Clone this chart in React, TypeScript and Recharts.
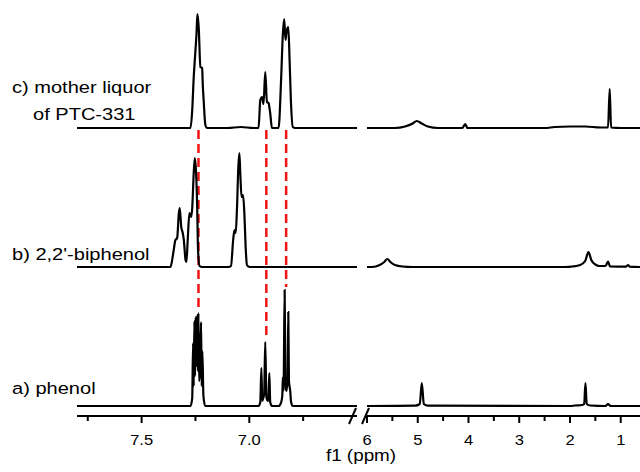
import { LineChart, Line, XAxis, YAxis, ReferenceLine } from 'recharts'

// [chemical shift (ppm), intensity], aromatic window
const MOTHER_LEFT: [number, number][] = [
  [7.8, 0], [7.273, 0], [7.265, 18], [7.258, 51], [7.253, 68], [7.245, 95], [7.241, 114],
  [7.235, 101], [7.227, 61], [7.219, 60], [7.216, 43], [7.212, 28], [7.204, 3], [7.196, 0],
  [7.1, 0], [7.04, 1], [6.98, 0],
  [6.957, 0], [6.949, 28], [6.941, 31], [6.934, 24], [6.926, 56], [6.918, 26], [6.911, 25],
  [6.903, 15], [6.895, 0],
  [6.864, 0], [6.853, 45], [6.844, 95], [6.838, 109], [6.832, 88], [6.826, 98], [6.819, 101],
  [6.813, 68], [6.807, 28], [6.798, 1], [6.787, 0], [6.5, 0],
]
const BIPHENOL_LEFT: [number, number][] = [
  [7.8, 0], [7.366, 0], [7.353, 14], [7.343, 27], [7.335, 29], [7.327, 54], [7.323, 59],
  [7.316, 40], [7.309, 34], [7.304, 27], [7.296, 7], [7.292, 5], [7.286, 27], [7.278, 54],
  [7.27, 50], [7.265, 59], [7.258, 94], [7.253, 109], [7.247, 94], [7.242, 60], [7.238, 17],
  [7.231, 1], [7.219, 0],
  [7.097, 0], [7.085, 1], [7.075, 27], [7.069, 37], [7.063, 34], [7.057, 60], [7.051, 100],
  [7.046, 114], [7.042, 94], [7.036, 70], [7.029, 72], [7.023, 54], [7.017, 20], [7.011, 2],
  [6.999, 0], [6.5, 0],
]
const PHENOL_LEFT: [number, number][] = [
  [7.8, 0], [7.273, 0], [7.265, 8], [7.261, 63], [7.258, 20], [7.255, 85], [7.252, 30],
  [7.249, 89], [7.245, 40], [7.242, 91], [7.239, 35], [7.236, 93], [7.233, 25], [7.23, 30],
  [7.227, 40], [7.224, 84], [7.221, 20], [7.218, 55], [7.213, 10], [7.205, 0],
  [6.957, 0], [6.949, 4], [6.944, 38], [6.94, 5], [6.935, 8], [6.931, 12], [6.926, 64],
  [6.921, 10], [6.917, 6], [6.912, 5], [6.907, 33], [6.903, 4], [6.895, 0],
  [6.864, 0], [6.853, 3], [6.847, 10], [6.844, 29], [6.841, 15], [6.836, 116], [6.832, 20],
  [6.827, 15], [6.822, 30], [6.819, 94], [6.816, 25], [6.81, 15], [6.806, 4], [6.798, 0],
  [6.5, 0],
]

// aliphatic window
const MOTHER_RIGHT: [number, number][] = [
  [6.0, 0], [5.45, 0], [5.25, 1.5], [5.1, 4.5], [5.02, 7], [4.92, 4.5], [4.8, 1.5], [4.6, 0],
  [4.12, 0], [4.065, 4], [4.02, 0],
  [2.5, 0], [2.3, 1], [2.0, 1.5], [1.7, 1.5], [1.4, 0.5],
  [1.25, 0.5], [1.217, 39], [1.19, 0.5], [1.0, 0], [0.62, 0],
]
const BIPHENOL_RIGHT: [number, number][] = [
  [6.0, 0], [5.9, 0], [5.75, 2], [5.66, 5], [5.6, 8], [5.54, 5], [5.45, 2], [5.3, 0.5], [5.1, 0],
  [2.1, 0], [1.95, 0.5], [1.8, 2], [1.7, 6], [1.636, 15], [1.58, 7], [1.5, 2.5], [1.42, 1],
  [1.3, 1], [1.25, 5.5], [1.21, 0.5], [0.9, 0.3], [0.856, 2], [0.82, 0.3], [0.62, 0],
]
const PHENOL_RIGHT: [number, number][] = [
  [6.0, 0], [5.05, 0.3], [4.96, 2], [4.92, 23], [4.88, 2], [4.8, 0.3],
  [2.0, 0], [1.9, 0.5], [1.76, 1], [1.72, 2], [1.695, 23], [1.67, 2], [1.6, 0.5],
  [1.3, 0], [1.25, 2], [1.2, 0], [0.62, 0],
]

// shifts marked by the dashed guides
const GUIDE_PPM = [7.236, 6.921, 6.829]

const LEFT_TICKS = [7.75, 7.5, 7.25, 7.0, 6.75]
const RIGHT_TICKS = [6, 5.5, 5, 4.5, 4, 3.5, 3, 2.5, 2, 1.5, 1]

const FONT = "'Liberation Sans', Arial, sans-serif"
const SX = 1.18

const toPts = (arr: [number, number][]) => arr.map(([ppm, h]) => ({ ppm, h }))

// vertical offsets of each stacked trace
const OFF_A = 10
const OFF_B = 149
const OFF_C = 288

const traces = [
  { key: 'c', left: MOTHER_LEFT, right: MOTHER_RIGHT, off: OFF_C },
  { key: 'b', left: BIPHENOL_LEFT, right: BIPHENOL_RIGHT, off: OFF_B },
  { key: 'a', left: PHENOL_LEFT, right: PHENOL_RIGHT, off: OFF_A },
]

function Txt({ x, y, size, anchor = 'start', children }: { x: number; y: number; size: number; anchor?: string; children: any }) {
  return (
    <text
      transform={`translate(${x},${y}) scale(${SX},1)`}
      fontFamily={FONT}
      fontSize={size}
      textAnchor={anchor as any}
      fill="#000"
    >
      {children}
    </text>
  )
}

function makeTick(step: number, digits: number) {
  return function Tick(props: any) {
    const { x, y, payload } = props
    const v = payload.value as number
    const major = Math.abs(v / step - Math.round(v / step)) < 1e-6
    return (
      <g>
        <line x1={x} x2={x} y1={y} y2={y + (major ? 7 : 5)} stroke="#000" strokeWidth={2} />
        {major && <Txt x={x} y={y + 29} size={14} anchor="middle">{v.toFixed(digits)}</Txt>}
      </g>
    )
  }
}

function guideEnd(ppm: number) {
  let best = 0
  for (const [p, h] of PHENOL_LEFT) {
    if (Math.abs(p - ppm) < 0.008 && h > best) best = h
  }
  return OFF_A + best + 3
}

const chartStyle = { position: 'absolute' as const, left: 0, top: 0 }

export default function App() {
  return (
    <div style={{ position: 'absolute', left: 0, top: 0, width: 640, height: 472, background: '#fff', overflow: 'hidden' }}>
      <LineChart width={370} height={472} margin={{ top: 6, left: 77, right: 13, bottom: 16 }} style={chartStyle}>
        <XAxis
          type="number"
          dataKey="ppm"
          domain={[6.5, 7.8]}
          reversed
          allowDataOverflow
          ticks={LEFT_TICKS}
          interval={0}
          height={40}
          tickSize={0}
          tickMargin={0}
          tickLine={false}
          axisLine={{ stroke: '#000', strokeWidth: 2 }}
          tick={makeTick(0.5, 1)}
        />
        <YAxis type="number" domain={[0, 410]} hide width={0} allowDataOverflow />
        {GUIDE_PPM.map((p) => (
          <ReferenceLine
            key={p}
            segment={[{ x: p, y: OFF_C - 2 }, { x: p, y: guideEnd(p) }]}
            stroke="#f01414"
            strokeWidth={2.5}
            strokeDasharray="9 5"
          />
        ))}
        {traces.map((t) => (
          <Line
            key={t.key}
            data={toPts(t.left)}
            dataKey={(d: any) => d.h + t.off}
            type="monotone"
            stroke="#000"
            strokeWidth={2.2}
            dot={false}
            isAnimationActive={false}
          />
        ))}
      </LineChart>

      <LineChart width={640} height={472} margin={{ top: 6, left: 367, right: 0, bottom: 16 }} style={chartStyle}>
        <XAxis
          type="number"
          dataKey="ppm"
          domain={[0.62, 6]}
          reversed
          allowDataOverflow
          ticks={RIGHT_TICKS}
          interval={0}
          height={40}
          tickSize={0}
          tickMargin={0}
          tickLine={false}
          axisLine={{ stroke: '#000', strokeWidth: 2 }}
          tick={makeTick(1, 0)}
        />
        <YAxis type="number" domain={[0, 410]} hide width={0} allowDataOverflow />
        {traces.map((t) => (
          <Line
            key={t.key}
            data={toPts(t.right)}
            dataKey={(d: any) => d.h + t.off}
            type="monotone"
            stroke="#000"
            strokeWidth={2.2}
            dot={false}
            isAnimationActive={false}
          />
        ))}
      </LineChart>

      <svg width={640} height={472} style={{ position: 'absolute', left: 0, top: 0, pointerEvents: 'none' }}>
        <line x1={349} y1={424} x2={356} y2={408} stroke="#000" strokeWidth={2} />
        <line x1={362} y1={424} x2={369} y2={408} stroke="#000" strokeWidth={2} />
        <Txt x={361} y={461} size={16} anchor="middle">f1 (ppm)</Txt>
        <Txt x={12} y={93} size={17}>c) mother liquor</Txt>
        <Txt x={33} y={120} size={17}>of PTC-331</Txt>
        <Txt x={12} y={260} size={17}>b) 2,2'-biphenol</Txt>
        <Txt x={12} y={394} size={17}>a) phenol</Txt>
      </svg>
    </div>
  )
}
